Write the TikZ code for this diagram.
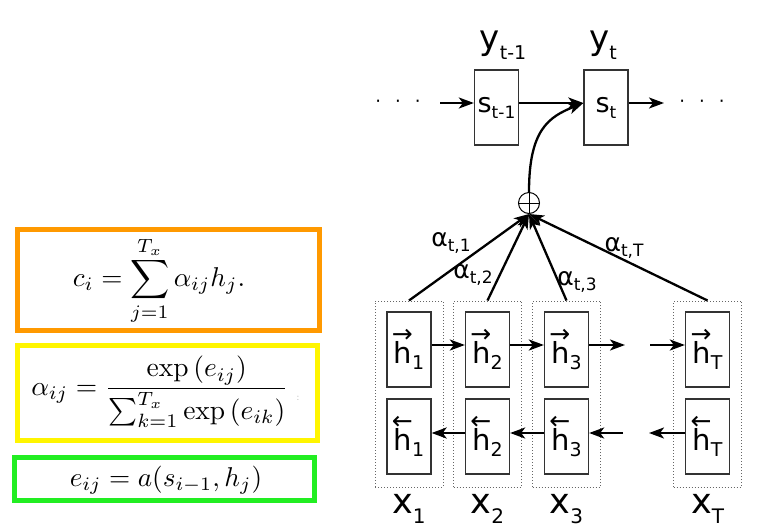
\documentclass[tikz,border=0pt]{standalone}
\usepackage{fontspec}
\usepackage{amsmath}
\usepackage{graphicx}
\usetikzlibrary{arrows.meta}
\newfontfamily\dv{DejaVu Sans}
\definecolor{borange}{HTML}{FF9900}
\definecolor{byellow}{HTML}{FFF500}
\definecolor{bgreen}{HTML}{22EE22}
\newcommand\lab[5]{{\dv\fontsize{#3}{#3}\selectfont #1\raisebox{-#5pt}{\fontsize{#4}{#4}\selectfont #2}}}
\newcommand\hfw[1]{{\dv\fontsize{29}{29}\selectfont\makebox[0pt][l]{\hspace{-2pt}\raisebox{21pt}{\fontsize{25}{25}\selectfont →}}h\raisebox{-6pt}{\fontsize{19}{19}\selectfont #1}}}
\newcommand\hbw[1]{{\dv\fontsize{29}{29}\selectfont\makebox[0pt][l]{\hspace{-2pt}\raisebox{21pt}{\fontsize{25}{25}\selectfont ←}}h\raisebox{-6pt}{\fontsize{19}{19}\selectfont #1}}}
\begin{document}
\begin{tikzpicture}[x=1pt,y=-1pt,
  cell/.style={draw=black!80, line width=1.3pt, minimum width=44pt, minimum height=75pt, inner sep=0pt},
  scell/.style={draw=black!80, line width=1.3pt, minimum width=44pt, minimum height=75pt, inner sep=0pt},
  grp/.style={draw=black!60, dotted, line width=1pt, minimum width=68pt, minimum height=186pt, inner sep=0pt},
  conn/.style={line width=2.3pt, -{Stealth[length=15pt,width=11pt,inset=4pt]}},
  fbox/.style={line width=5pt, minimum width=302pt, inner sep=0pt},
  lbl/.style={inner sep=0pt}]
\useasboundingbox (0,0) rectangle (769,531);

% formula boxes
\node[fbox, draw=borange, minimum height=101pt] (cbox) at (168.5,280) {};
\node[lbl] (cf) at (159,281) {\scalebox{2.72}{$\displaystyle c_i=\sum_{j=1}^{T_x}\alpha_{ij}h_j.$}};
\node[fbox, draw=byellow, minimum width=300pt, minimum height=95pt] (abox) at (167.5,393) {};
\node[lbl] (af) at (160,392) {\scalebox{2.75}{$\displaystyle \alpha_{ij}=\frac{\exp\left(e_{ij}\right)}{\sum_{k=1}^{T_x}\exp\left(e_{ik}\right)}$}};
\node[lbl, text=black!30, font=\fontsize{10}{10}\selectfont] (colon) at (298,398) {:};
\node[fbox, draw=bgreen, minimum width=300pt, minimum height=43pt] (ebox) at (164.5,479) {};
\node[lbl] (ef) at (166,480) {\scalebox{2.72}{$e_{ij}=a(s_{i-1},h_j)$}};

% decoder
\node[scell] (s1) at (496.5,107.5) {\raisebox{3pt}{\lab{s}{t-1}{27}{17}{6}}};
\node[scell] (s2) at (606,107.5) {\raisebox{3pt}{\lab{s}{t}{27}{17}{6}}};
\node[lbl, anchor=base] (y1) at (503,49) {\lab{y}{t-1}{34}{19}{10}};
\node[lbl, anchor=base] (y2) at (603,49) {\lab{y}{t}{34}{19}{10}};
\node[lbl] (dl) at (398,104) {\dv\fontsize{18}{18}\selectfont ·\hspace{14pt}·\hspace{14pt}·};
\node[lbl] (dr) at (702,104) {\dv\fontsize{18}{18}\selectfont ·\hspace{14pt}·\hspace{14pt}·};
\coordinate (inl) at (440,103);
\coordinate (outr) at (664,103);
\draw[conn] (inl) -- ([yshift=4.5pt]s1.west);
\draw[conn] ([yshift=4.5pt]s1.east) -- ([yshift=4.5pt]s2.west);
\draw[conn] ([yshift=4.5pt]s2.east) -- (outr);

% sum node
\node[circle, draw, line width=1pt, minimum size=21pt, inner sep=0pt] (plus) at (529,203) {};
\draw[line width=1pt] (plus.north) -- (plus.south) (plus.west) -- (plus.east);
\draw[conn] (plus.north) .. controls +(0,-62) and +(-35,14) .. ([yshift=4.5pt]s2.west);

% encoder groups
\foreach \n/\x in {1/409,2/487.5,3/566.5,T/707.5}{
  \node[grp] (g\n) at (\x,394) {};
  \node[cell] (f\n) at (\x,349.5) {\hfw{\n}};
  \node[cell] (b\n) at (\x,436.5) {\hbw{\n}};
  \node[lbl, anchor=base] (x\n) at (\x,513) {\lab{x}{\n}{35}{20}{10}};
  \draw[conn] (g\n.north) -- (plus.south);
}
\coordinate (fo) at (625,345);
\coordinate (fi) at (650,345);
\coordinate (bi) at (623,433);
\coordinate (bo) at (649,433);
\draw[conn] ([yshift=4.5pt]f1.east) -- ([yshift=4.5pt]f2.west);
\draw[conn] ([yshift=4.5pt]f2.east) -- ([yshift=4.5pt]f3.west);
\draw[conn] ([yshift=4.5pt]f3.east) -- (fo);
\draw[conn] (fi) -- ([yshift=4.5pt]fT.west);
\draw[conn] ([yshift=3.5pt]b2.west) -- ([yshift=3.5pt]b1.east);
\draw[conn] ([yshift=3.5pt]b3.west) -- ([yshift=3.5pt]b2.east);
\draw[conn] (bi) -- ([yshift=3.5pt]b3.east);
\draw[conn] ([yshift=3.5pt]bT.west) -- (bo);

% attention labels
\node[lbl] (a1) at (451,243) {\lab{α}{t,1}{25}{17}{5}};
\node[lbl] (a2) at (473,275) {\lab{α}{t,2}{25}{17}{5}};
\node[lbl] (a3) at (577,282) {\lab{α}{t,3}{25}{17}{5}};
\node[lbl] (aT) at (624,248) {\lab{α}{t,T}{25}{17}{5}};
\end{tikzpicture}
\end{document}
